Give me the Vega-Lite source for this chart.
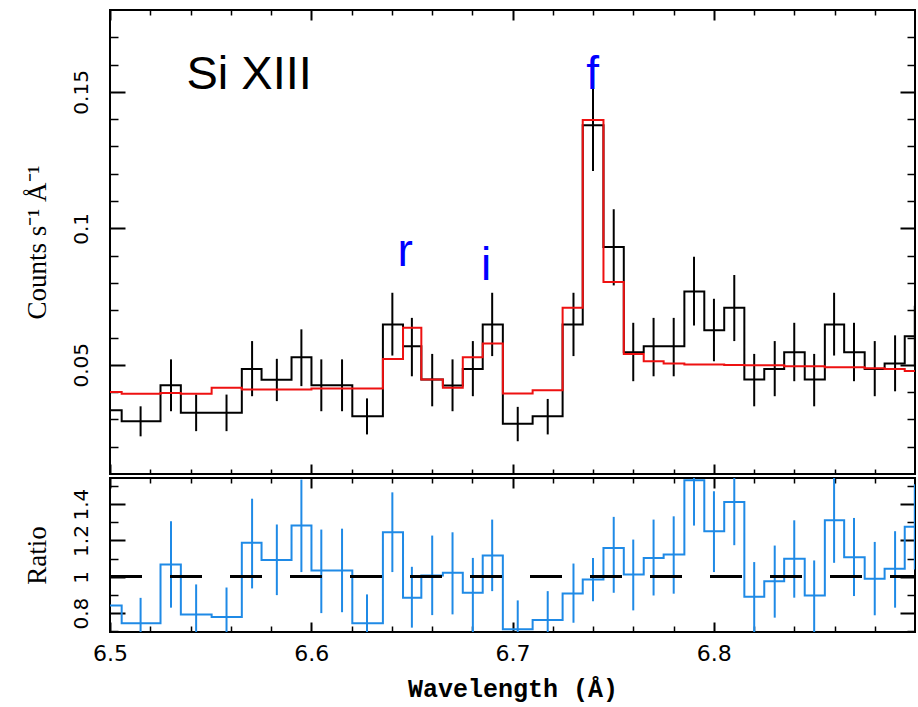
{
  "$schema": "https://vega.github.io/schema/vega-lite/v6.json",
  "background": "white",
  "padding": {"left": 22, "top": 8, "right": 0, "bottom": 8},
  "spacing": 0,
  "config": {
    "view": {"stroke": "black", "strokeWidth": 2},
    "axis": {"grid": false, "domain": false, "tickColor": "black", "labelColor": "black", "titleColor": "black", "labelFlush": false, "labelOverlap": false, "labelBound": false, "tickWidth": 2}
  },
  "datasets": {
    "spectrum": [
      {"lo": 6.4858, "hi": 6.5058, "wl": 6.4958, "rate": 0.0334, "rate_lo": 0.0279, "rate_hi": 0.0389, "model": 0.0400, "ratio": 0.842, "ratio_lo": 0.70, "ratio_hi": 0.98},
      {"lo": 6.5058, "hi": 6.5251, "wl": 6.5152, "rate": 0.0293, "rate_lo": 0.0238, "rate_hi": 0.0348, "model": 0.0394, "ratio": 0.744, "ratio_lo": 0.604, "ratio_hi": 0.884},
      {"lo": 6.5251, "hi": 6.5352, "wl": 6.5303, "rate": 0.0425, "rate_lo": 0.0330, "rate_hi": 0.0520, "model": 0.0397, "ratio": 1.068, "ratio_lo": 0.830, "ratio_hi": 1.306},
      {"lo": 6.5352, "hi": 6.5505, "wl": 6.5428, "rate": 0.0324, "rate_lo": 0.0257, "rate_hi": 0.0391, "model": 0.0394, "ratio": 0.793, "ratio_lo": 0.628, "ratio_hi": 0.958},
      {"lo": 6.5505, "hi": 6.5655, "wl": 6.5579, "rate": 0.0324, "rate_lo": 0.0257, "rate_hi": 0.0391, "model": 0.0416, "ratio": 0.778, "ratio_lo": 0.615, "ratio_hi": 0.941},
      {"lo": 6.5655, "hi": 6.5753, "wl": 6.5706, "rate": 0.0485, "rate_lo": 0.0385, "rate_hi": 0.0587, "model": 0.0410, "ratio": 1.187, "ratio_lo": 0.936, "ratio_hi": 1.430},
      {"lo": 6.5753, "hi": 6.5902, "wl": 6.5829, "rate": 0.0445, "rate_lo": 0.0367, "rate_hi": 0.0522, "model": 0.0410, "ratio": 1.092, "ratio_lo": 0.899, "ratio_hi": 1.288},
      {"lo": 6.5902, "hi": 6.6001, "wl": 6.5951, "rate": 0.0528, "rate_lo": 0.0422, "rate_hi": 0.0630, "model": 0.0410, "ratio": 1.282, "ratio_lo": 1.026, "ratio_hi": 1.535},
      {"lo": 6.6001, "hi": 6.6100, "wl": 6.6050, "rate": 0.0425, "rate_lo": 0.0330, "rate_hi": 0.0520, "model": 0.0413, "ratio": 1.035, "ratio_lo": 0.800, "ratio_hi": 1.260},
      {"lo": 6.6100, "hi": 6.6204, "wl": 6.6153, "rate": 0.0425, "rate_lo": 0.0330, "rate_hi": 0.0520, "model": 0.0413, "ratio": 1.035, "ratio_lo": 0.805, "ratio_hi": 1.265},
      {"lo": 6.6204, "hi": 6.6356, "wl": 6.6277, "rate": 0.0312, "rate_lo": 0.0245, "rate_hi": 0.0377, "model": 0.0413, "ratio": 0.744, "ratio_lo": 0.585, "ratio_hi": 0.903},
      {"lo": 6.6356, "hi": 6.6456, "wl": 6.6403, "rate": 0.0648, "rate_lo": 0.0534, "rate_hi": 0.0764, "model": 0.0521, "ratio": 1.245, "ratio_lo": 1.026, "ratio_hi": 1.465},
      {"lo": 6.6456, "hi": 6.6547, "wl": 6.6500, "rate": 0.0568, "rate_lo": 0.0458, "rate_hi": 0.0672, "model": 0.0636, "ratio": 0.885, "ratio_lo": 0.720, "ratio_hi": 1.055},
      {"lo": 6.6547, "hi": 6.6654, "wl": 6.6601, "rate": 0.0446, "rate_lo": 0.0348, "rate_hi": 0.0540, "model": 0.0446, "ratio": 1.007, "ratio_lo": 0.789, "ratio_hi": 1.227},
      {"lo": 6.6654, "hi": 6.6753, "wl": 6.6702, "rate": 0.0424, "rate_lo": 0.0330, "rate_hi": 0.0520, "model": 0.0416, "ratio": 1.022, "ratio_lo": 0.793, "ratio_hi": 1.245},
      {"lo": 6.6753, "hi": 6.6852, "wl": 6.6803, "rate": 0.0485, "rate_lo": 0.0385, "rate_hi": 0.0587, "model": 0.0528, "ratio": 0.912, "ratio_lo": 0.690, "ratio_hi": 1.104},
      {"lo": 6.6852, "hi": 6.6952, "wl": 6.6899, "rate": 0.0648, "rate_lo": 0.0532, "rate_hi": 0.0764, "model": 0.0578, "ratio": 1.117, "ratio_lo": 0.921, "ratio_hi": 1.315},
      {"lo": 6.6952, "hi": 6.7100, "wl": 6.7026, "rate": 0.0284, "rate_lo": 0.0220, "rate_hi": 0.0346, "model": 0.0395, "ratio": 0.711, "ratio_lo": 0.552, "ratio_hi": 0.870},
      {"lo": 6.7100, "hi": 6.7249, "wl": 6.7175, "rate": 0.0312, "rate_lo": 0.0245, "rate_hi": 0.0375, "model": 0.0407, "ratio": 0.762, "ratio_lo": 0.603, "ratio_hi": 0.921},
      {"lo": 6.7249, "hi": 6.7349, "wl": 6.7303, "rate": 0.0648, "rate_lo": 0.0532, "rate_hi": 0.0764, "model": 0.0709, "ratio": 0.908, "ratio_lo": 0.747, "ratio_hi": 1.073},
      {"lo": 6.7349, "hi": 6.7452, "wl": 6.7400, "rate": 0.1378, "rate_lo": 0.1210, "rate_hi": 0.1546, "model": 0.1397, "ratio": 0.985, "ratio_lo": 0.866, "ratio_hi": 1.104},
      {"lo": 6.7452, "hi": 6.7553, "wl": 6.7503, "rate": 0.0932, "rate_lo": 0.0791, "rate_hi": 0.1070, "model": 0.0803, "ratio": 1.159, "ratio_lo": 0.912, "ratio_hi": 1.330},
      {"lo": 6.7553, "hi": 6.7652, "wl": 6.7600, "rate": 0.0546, "rate_lo": 0.0440, "rate_hi": 0.0654, "model": 0.0540, "ratio": 1.013, "ratio_lo": 0.815, "ratio_hi": 1.205},
      {"lo": 6.7652, "hi": 6.7751, "wl": 6.7701, "rate": 0.0568, "rate_lo": 0.0458, "rate_hi": 0.0672, "model": 0.0513, "ratio": 1.104, "ratio_lo": 0.897, "ratio_hi": 1.315},
      {"lo": 6.7751, "hi": 6.7854, "wl": 6.7801, "rate": 0.0568, "rate_lo": 0.0458, "rate_hi": 0.0672, "model": 0.0505, "ratio": 1.123, "ratio_lo": 0.907, "ratio_hi": 1.333},
      {"lo": 6.7854, "hi": 6.7953, "wl": 6.7902, "rate": 0.0769, "rate_lo": 0.0644, "rate_hi": 0.0896, "model": 0.0501, "ratio": 1.531, "ratio_lo": 1.282, "ratio_hi": 1.780},
      {"lo": 6.7953, "hi": 6.8052, "wl": 6.8001, "rate": 0.0627, "rate_lo": 0.0513, "rate_hi": 0.0742, "model": 0.0501, "ratio": 1.251, "ratio_lo": 1.026, "ratio_hi": 1.471},
      {"lo": 6.8052, "hi": 6.8152, "wl": 6.8102, "rate": 0.0709, "rate_lo": 0.0587, "rate_hi": 0.0829, "model": 0.0499, "ratio": 1.412, "ratio_lo": 1.174, "ratio_hi": 1.650},
      {"lo": 6.8152, "hi": 6.8251, "wl": 6.8201, "rate": 0.0446, "rate_lo": 0.0348, "rate_hi": 0.0540, "model": 0.0498, "ratio": 0.890, "ratio_lo": 0.680, "ratio_hi": 1.081},
      {"lo": 6.8251, "hi": 6.8350, "wl": 6.8303, "rate": 0.0485, "rate_lo": 0.0385, "rate_hi": 0.0587, "model": 0.0498, "ratio": 0.976, "ratio_lo": 0.775, "ratio_hi": 1.172},
      {"lo": 6.8350, "hi": 6.8452, "wl": 6.8400, "rate": 0.0546, "rate_lo": 0.0440, "rate_hi": 0.0654, "model": 0.0495, "ratio": 1.099, "ratio_lo": 0.885, "ratio_hi": 1.311},
      {"lo": 6.8452, "hi": 6.8552, "wl": 6.8499, "rate": 0.0446, "rate_lo": 0.0348, "rate_hi": 0.0540, "model": 0.0495, "ratio": 0.897, "ratio_lo": 0.680, "ratio_hi": 1.090},
      {"lo": 6.8552, "hi": 6.8648, "wl": 6.8598, "rate": 0.0648, "rate_lo": 0.0534, "rate_hi": 0.0764, "model": 0.0491, "ratio": 1.311, "ratio_lo": 1.077, "ratio_hi": 1.560},
      {"lo": 6.8648, "hi": 6.8750, "wl": 6.8697, "rate": 0.0546, "rate_lo": 0.0440, "rate_hi": 0.0654, "model": 0.0491, "ratio": 1.108, "ratio_lo": 0.894, "ratio_hi": 1.324},
      {"lo": 6.8750, "hi": 6.8849, "wl": 6.8800, "rate": 0.0485, "rate_lo": 0.0385, "rate_hi": 0.0587, "model": 0.0487, "ratio": 0.989, "ratio_lo": 0.788, "ratio_hi": 1.192},
      {"lo": 6.8849, "hi": 6.8949, "wl": 6.8901, "rate": 0.0505, "rate_lo": 0.0403, "rate_hi": 0.0608, "model": 0.0485, "ratio": 1.044, "ratio_lo": 0.830, "ratio_hi": 1.251},
      {"lo": 6.8949, "hi": 6.9049, "wl": 6.8999, "rate": 0.0605, "rate_lo": 0.0494, "rate_hi": 0.0716, "model": 0.0477, "ratio": 1.275, "ratio_lo": 1.040, "ratio_hi": 1.510}
    ],
    "lines": [
      {"label": "r", "wl": 6.6467, "value": 0.0862},
      {"label": "i", "wl": 6.6869, "value": 0.0809},
      {"label": "f", "wl": 6.7398, "value": 0.1512}
    ],
    "ion": [
      {"label": "Si XIII", "wl": 6.5380, "value": 0.1512}
    ]
  },
  "vconcat": [
    {
      "width": 805,
      "height": 464,
      "data": {"name": "spectrum"},
      "resolve": {"axis": {"x": "independent", "y": "independent"}},
      "layer": [
        {
          "transform": [{"fold": ["lo", "hi"], "as": ["edge", "x"]}],
          "mark": {"type": "line", "color": "black", "strokeWidth": 2, "clip": true},
          "encoding": {
            "x": {"field": "x", "type": "quantitative", "scale": {"domain": [6.5, 6.9], "nice": false, "zero": false},
                  "axis": {"orient": "bottom", "values": [6.5, 6.6, 6.7, 6.8], "tickSize": -10, "labels": false, "title": null}},
            "y": {"field": "rate", "type": "quantitative", "scale": {"domain": [0.01, 0.18], "nice": false, "zero": false},
                  "axis": {"orient": "left", "values": [0.05, 0.1, 0.15], "tickSize": -15, "format": "~g", "labelAngle": -90, "labelAlign": "center", "labelBaseline": "bottom", "labelFont": "DejaVu Sans", "labelFontSize": 20, "labelPadding": 34, "title": "Counts s⁻¹ Å⁻¹", "titleFont": "Liberation Serif", "titleFontSize": 27, "titleFontWeight": "normal", "titlePadding": 20}},
            "order": [{"field": "lo", "type": "quantitative"}, {"field": "edge", "type": "nominal", "sort": "descending"}]
          }
        },
        {
          "mark": {"type": "rule", "color": "black", "strokeWidth": 2, "clip": true},
          "encoding": {
            "x": {"field": "wl", "type": "quantitative", "scale": {"domain": [6.5, 6.9], "nice": false, "zero": false},
                  "axis": {"orient": "bottom", "values": [6.52, 6.54, 6.56, 6.58, 6.62, 6.64, 6.66, 6.68, 6.72, 6.74, 6.76, 6.78, 6.82, 6.84, 6.86, 6.88], "tickSize": -5, "tickWidth": 1.5, "labels": false, "title": null}},
            "y": {"field": "rate_lo", "type": "quantitative", "scale": {"domain": [0.01, 0.18], "nice": false, "zero": false},
                  "axis": {"orient": "left", "values": [0.02, 0.03, 0.04, 0.06, 0.07, 0.08, 0.09, 0.11, 0.12, 0.13, 0.14, 0.16, 0.17], "tickSize": -8, "tickWidth": 1.5, "labels": false, "title": null}},
            "y2": {"field": "rate_hi"}
          }
        },
        {
          "transform": [{"fold": ["lo", "hi"], "as": ["edge", "x"]}],
          "mark": {"type": "line", "color": "#ee1111", "strokeWidth": 2, "clip": true},
          "encoding": {
            "x": {"field": "x", "type": "quantitative", "scale": {"domain": [6.5, 6.9], "nice": false, "zero": false},
                  "axis": {"orient": "top", "values": [6.5, 6.6, 6.7, 6.8], "tickSize": -10, "labels": false, "title": null}},
            "y": {"field": "model", "type": "quantitative", "scale": {"domain": [0.01, 0.18], "nice": false, "zero": false},
                  "axis": {"orient": "right", "values": [0.05, 0.1, 0.15], "tickSize": -15, "labels": false, "title": null}},
            "order": [{"field": "lo", "type": "quantitative"}, {"field": "edge", "type": "nominal", "sort": "descending"}]
          }
        },
        {
          "data": {"name": "lines"},
          "mark": {"type": "text", "color": "#0000ff", "font": "Liberation Sans", "fontSize": 46, "align": "center", "baseline": "alphabetic"},
          "encoding": {
            "x": {"field": "wl", "type": "quantitative", "scale": {"domain": [6.5, 6.9], "nice": false, "zero": false},
                  "axis": {"orient": "top", "values": [6.52, 6.54, 6.56, 6.58, 6.62, 6.64, 6.66, 6.68, 6.72, 6.74, 6.76, 6.78, 6.82, 6.84, 6.86, 6.88], "tickSize": -5, "tickWidth": 1.5, "labels": false, "title": null}},
            "y": {"field": "value", "type": "quantitative", "scale": {"domain": [0.01, 0.18], "nice": false, "zero": false},
                  "axis": {"orient": "right", "values": [0.02, 0.03, 0.04, 0.06, 0.07, 0.08, 0.09, 0.11, 0.12, 0.13, 0.14, 0.16, 0.17], "tickSize": -8, "tickWidth": 1.5, "labels": false, "title": null}},
            "text": {"field": "label"}
          }
        },
        {
          "data": {"name": "ion"},
          "mark": {"type": "text", "color": "black", "font": "Liberation Sans", "fontSize": 47, "align": "left", "baseline": "alphabetic"},
          "encoding": {
            "x": {"field": "wl", "type": "quantitative", "scale": {"domain": [6.5, 6.9], "nice": false, "zero": false}, "axis": null},
            "y": {"field": "value", "type": "quantitative", "scale": {"domain": [0.01, 0.18], "nice": false, "zero": false}, "axis": null},
            "text": {"field": "label"}
          }
        }
      ]
    },
    {
      "width": 805,
      "height": 154,
      "data": {"name": "spectrum"},
      "resolve": {"axis": {"x": "independent", "y": "independent"}},
      "layer": [
        {
          "transform": [{"fold": ["lo", "hi"], "as": ["edge", "x"]}],
          "mark": {"type": "line", "color": "#1f8ae6", "strokeWidth": 2, "clip": true},
          "encoding": {
            "x": {"field": "x", "type": "quantitative", "scale": {"domain": [6.5, 6.9], "nice": false, "zero": false},
                  "axis": {"orient": "bottom", "values": [6.5, 6.6, 6.7, 6.8], "tickSize": -10, "labelFont": "DejaVu Sans", "labelFontSize": 22, "labelPadding": 21, "labelBaseline": "top", "title": "Wavelength (Å)", "titleFont": "Liberation Mono", "titleFontSize": 25, "titleFontWeight": "bold", "titlePadding": 12}},
            "y": {"field": "ratio", "type": "quantitative", "scale": {"domain": [0.696, 1.544], "nice": false, "zero": false},
                  "axis": {"orient": "left", "values": [0.8, 1, 1.2, 1.4], "tickSize": -15, "format": "~g", "labelAngle": -90, "labelAlign": "center", "labelBaseline": "bottom", "labelFont": "DejaVu Sans", "labelFontSize": 20, "labelPadding": 34, "title": "Ratio", "titleFont": "Liberation Serif", "titleFontSize": 27, "titleFontWeight": "normal", "titlePadding": 20}},
            "order": [{"field": "lo", "type": "quantitative"}, {"field": "edge", "type": "nominal", "sort": "descending"}]
          }
        },
        {
          "mark": {"type": "rule", "color": "#1f8ae6", "strokeWidth": 2, "clip": true},
          "encoding": {
            "x": {"field": "wl", "type": "quantitative", "scale": {"domain": [6.5, 6.9], "nice": false, "zero": false},
                  "axis": {"orient": "bottom", "values": [6.52, 6.54, 6.56, 6.58, 6.62, 6.64, 6.66, 6.68, 6.72, 6.74, 6.76, 6.78, 6.82, 6.84, 6.86, 6.88], "tickSize": -6, "tickWidth": 1.5, "labels": false, "title": null}},
            "y": {"field": "ratio", "type": "quantitative", "scale": {"domain": [0.696, 1.544], "nice": false, "zero": false},
                  "axis": {"orient": "left", "values": [0.7, 0.9, 1.1, 1.3, 1.5], "tickSize": -8, "tickWidth": 1.5, "labels": false, "title": null}},
            "y2": {"field": "ratio_hi"}
          }
        },
        {
          "mark": {"type": "rule", "color": "#1f8ae6", "strokeWidth": 2, "clip": true},
          "encoding": {
            "x": {"field": "wl", "type": "quantitative", "scale": {"domain": [6.5, 6.9], "nice": false, "zero": false},
                  "axis": {"orient": "top", "values": [6.5, 6.6, 6.7, 6.8], "tickSize": -10, "labels": false, "title": null}},
            "y": {"field": "ratio_lo", "type": "quantitative", "scale": {"domain": [0.696, 1.544], "nice": false, "zero": false},
                  "axis": {"orient": "right", "values": [0.8, 1, 1.2, 1.4], "tickSize": -15, "labels": false, "title": null}},
            "y2": {"field": "ratio"}
          }
        },
        {
          "mark": {"type": "rule", "color": "black", "strokeWidth": 2, "strokeDash": [32, 28]},
          "encoding": {
            "x": {"datum": 6.5, "type": "quantitative", "scale": {"domain": [6.5, 6.9], "nice": false, "zero": false},
                  "axis": {"orient": "top", "values": [6.52, 6.54, 6.56, 6.58, 6.62, 6.64, 6.66, 6.68, 6.72, 6.74, 6.76, 6.78, 6.82, 6.84, 6.86, 6.88], "tickSize": -5, "tickWidth": 1.5, "labels": false, "title": null}},
            "x2": {"datum": 6.9},
            "y": {"datum": 1, "type": "quantitative", "scale": {"domain": [0.696, 1.544], "nice": false, "zero": false},
                  "axis": {"orient": "right", "values": [0.7, 0.9, 1.1, 1.3, 1.5], "tickSize": -8, "tickWidth": 1.5, "labels": false, "title": null}}
          }
        }
      ]
    }
  ]
}
